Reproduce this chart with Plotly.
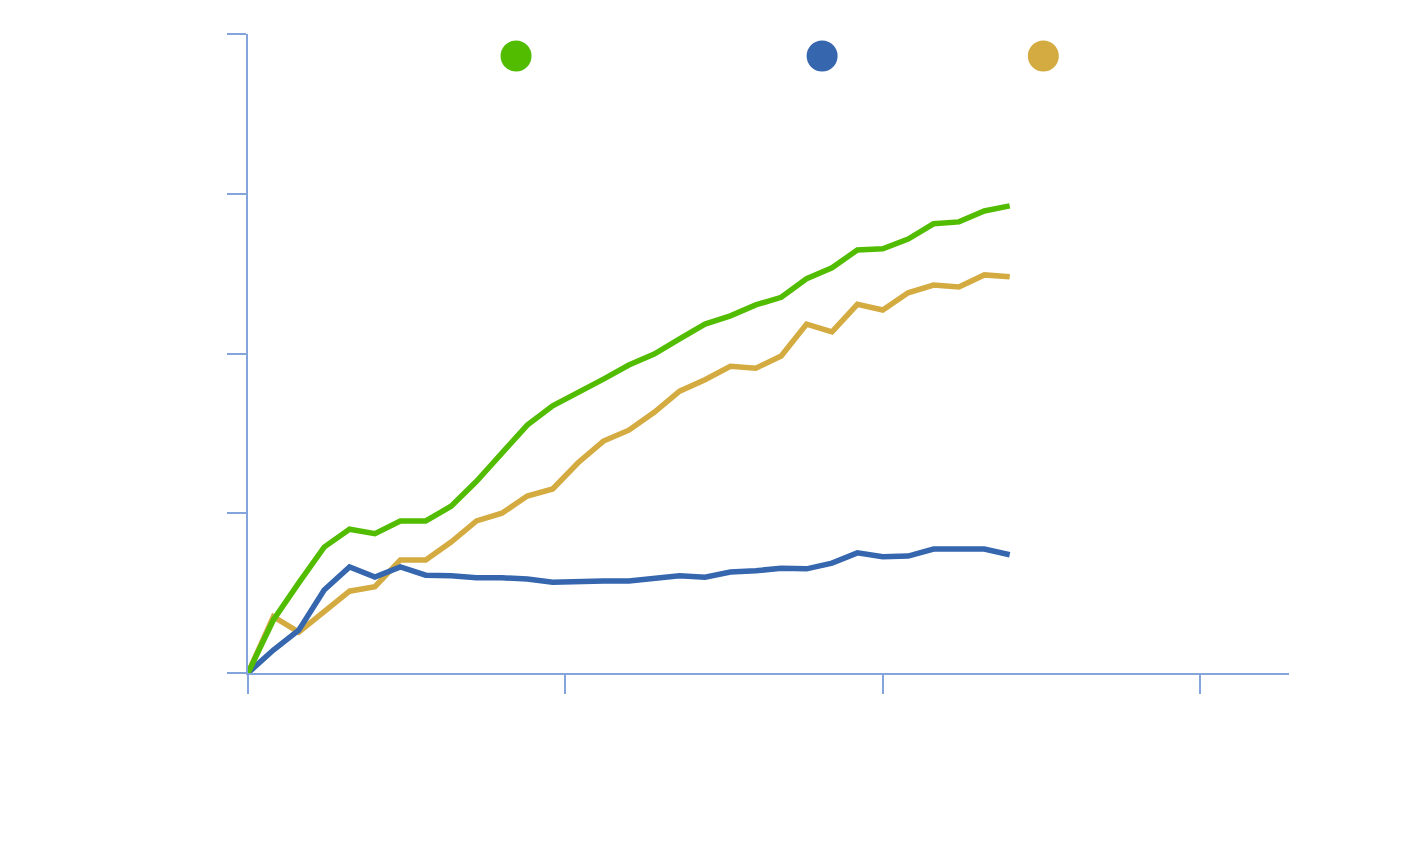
import plotly.graph_objects as go

x_values = [0, 2, 4, 6, 8, 10, 12, 14, 16, 18, 20, 22, 24, 26, 28, 30,
            32, 34, 36, 38, 40, 42, 44, 46, 48, 50, 52, 54, 56, 58, 60]

green_values = [0, 8.3, 14.1, 19.7, 22.5, 21.8, 23.8, 23.8, 26.1, 30.0, 34.4,
                38.8, 41.8, 43.8, 46.0, 48.2, 49.9, 52.3, 54.6, 55.9, 57.6,
                58.8, 61.7, 63.4, 66.2, 66.4, 67.9, 70.3, 70.6, 72.3, 73.1]

blue_values = [0, 3.6, 6.7, 13.0, 16.6, 15.0, 16.6, 15.3, 15.2, 14.9, 14.9,
               14.7, 14.2, 14.4, 14.4, 14.4, 14.7, 15.2, 15.0, 15.8, 16.0,
               16.4, 16.3, 17.2, 18.8, 18.2, 18.3, 19.4, 19.4, 19.4, 18.5]

gold_values = [0, 8.8, 6.4, 9.5, 12.8, 13.5, 17.7, 17.7, 20.5, 23.8, 25.0,
               27.7, 28.8, 32.9, 36.3, 38.0, 40.8, 44.1, 45.9, 48.0, 47.7,
               49.6, 54.6, 53.4, 57.7, 56.8, 59.5, 60.7, 60.4, 62.3, 62.0]

x_ticks = [0, 25, 50, 75]
y_ticks = [0, 25, 50, 75, 100]

GREEN = "#52bc00"
BLUE = "#3566ae"
GOLD = "#d4ab40"
AXIS = "#84a4dc"

fig = go.Figure()
for vals, col in [(gold_values, GOLD), (blue_values, BLUE), (green_values, GREEN)]:
    fig.add_trace(go.Scatter(x=x_values, y=vals, mode="lines",
                             line=dict(color=col, width=5.5),
                             showlegend=False, hoverinfo="skip"))

# legend dots
legend_cols = [GREEN, BLUE, GOLD]
legend_x = [0.2575, 0.5515, 0.764]
for cx, col in zip(legend_x, legend_cols):
    fig.add_shape(type="circle", xref="paper", yref="paper",
                  xsizemode="pixel", ysizemode="pixel",
                  xanchor=cx, yanchor=0.9656,
                  x0=-15.5, x1=15.5, y0=-15.5, y1=15.5,
                  fillcolor=col, line=dict(width=0))

fig.update_layout(
    width=1408, height=848,
    margin=dict(l=248, r=119, t=34, b=175),
    paper_bgcolor="white", plot_bgcolor="white",
    showlegend=False,
    xaxis=dict(range=[0, 82], tickvals=x_ticks, showticklabels=False,
               showgrid=False, zeroline=False, showline=True,
               linecolor=AXIS, linewidth=2, ticks="outside", ticklen=19,
               tickwidth=2, tickcolor=AXIS),
    yaxis=dict(range=[0, 100], tickvals=y_ticks, showticklabels=False,
               showgrid=False, zeroline=False, showline=True,
               linecolor=AXIS, linewidth=2, ticks="outside", ticklen=19,
               tickwidth=2, tickcolor=AXIS),
)

fig.write_html("out.html")
